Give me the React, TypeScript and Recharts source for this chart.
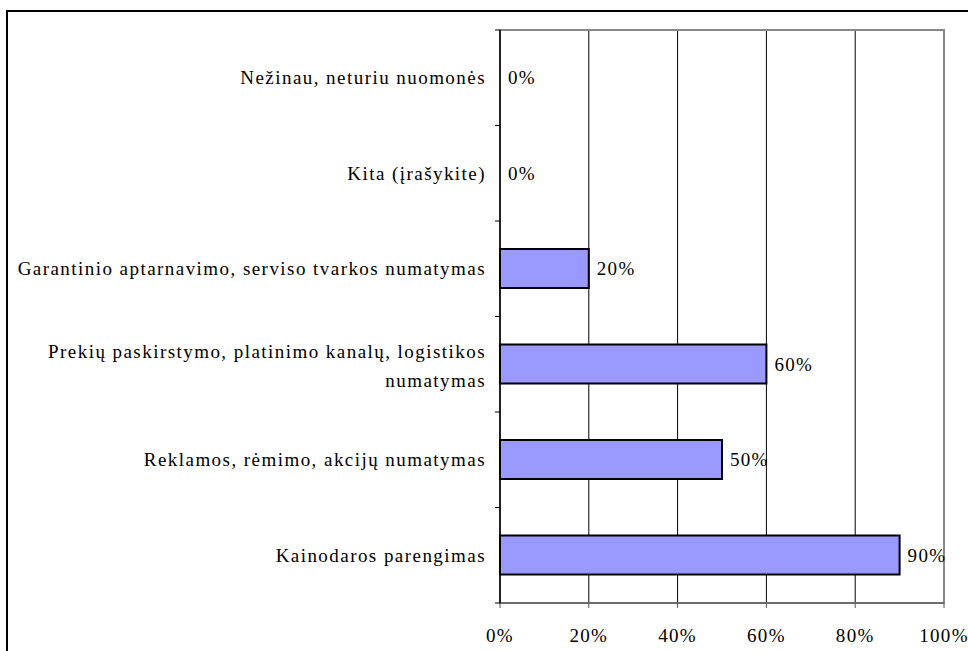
import React from "react";
import { ComposedChart, Bar, Line, XAxis, YAxis, CartesianGrid, LabelList, ReferenceArea } from "recharts";

const categories = [
  "Nežinau, neturiu nuomonės",
  "Kita (įrašykite)",
  "Garantinio aptarnavimo, serviso tvarkos numatymas",
  "Prekių paskirstymo, platinimo kanalų, logistikos|numatymas",
  "Reklamos, rėmimo, akcijų numatymas",
  "Kainodaros parengimas",
];
const values = [0, 0, 20, 60, 50, 90];
const xTicks = [0, 20, 40, 60, 80, 100];

const data = categories.map((c, i) => ({ name: c, value: values[i] }));

const W = 968;
const H = 651;
const MARGIN = { top: 30, right: 24, bottom: 0, left: 0 };
const XAXIS_H = 48;
const YAXIS_W = 500;
const FONT = "'Liberation Serif', 'Times New Roman', serif";
const FS = 19;
const LS = 1.45;
const BAND = (H - MARGIN.top - MARGIN.bottom - XAXIS_H) / categories.length;

const YTick = (props: any) => {
  const { y, payload, index } = props;
  const lines = String(payload.value).split("|");
  const axisX = MARGIN.left + YAXIS_W;
  const lh = 29;
  const start = -((lines.length - 1) * lh) / 2;
  return (
    <g>
      <line x1={axisX - 5} x2={axisX} y1={y - BAND / 2} y2={y - BAND / 2} stroke="#000" strokeWidth={1} />
      {index === categories.length - 1 && (
        <line x1={axisX - 5} x2={axisX} y1={y + BAND / 2} y2={y + BAND / 2} stroke="#000" strokeWidth={1} />
      )}
      <text
        x={axisX - 14}
        y={y}
        textAnchor="end"
        fontFamily={FONT}
        fontSize={FS}
        letterSpacing={LS}
        fill="#000"
      >
        {lines.map((l, i) => (
          <tspan key={i} x={axisX - 14} dy={i === 0 ? start + FS * 0.35 + (lines.length > 1 ? 2 : 0) : lh}>
            {l}
          </tspan>
        ))}
      </text>
    </g>
  );
};

export default function App() {
  return (
    <div style={{ position: "absolute", left: 0, top: 0, width: W, height: H, overflow: "hidden", background: "#fff" }}>
      <div style={{ position: "absolute", left: 6, top: 10, width: 1000, height: 700, border: "2px solid #000" }} />
      <div style={{ position: "absolute", left: 0, top: 0 }}>
        <ComposedChart width={W} height={H} data={data} layout="vertical" margin={MARGIN} barSize={39}>
          <ReferenceArea x1={0} x2={100} fill="none" stroke="#888" strokeWidth={2} ifOverflow="visible" />
          <CartesianGrid horizontal={false} vertical={true} stroke="#000" strokeWidth={1} strokeOpacity={1} />
          <XAxis
            type="number"
            domain={[0, 100]}
            ticks={xTicks}
            height={XAXIS_H}
            tickFormatter={(v: number) => `${v}%`}
            stroke="#555"
            tickSize={5}
            tickMargin={21}
            tick={{ fontFamily: FONT, fontSize: FS, fill: "#000", letterSpacing: 1.3 }}
            interval={0}
          />
          <YAxis
            type="category"
            dataKey="name"
            width={YAXIS_W}
            stroke="#000"
            strokeWidth={1.5}
            tickLine={false}
            tick={<YTick />}
            interval={0}
          />
          <Bar dataKey="value" fill="#9999FF" stroke="#000" strokeWidth={2} isAnimationActive={false} />
          <Line dataKey="value" stroke="none" dot={false} activeDot={false} isAnimationActive={false}>
            <LabelList
              dataKey="value"
              position="right"
              offset={8}
              formatter={(v: number) => `${v}%`}
              fontFamily={FONT}
              fontSize={FS}
              letterSpacing={1.3}
              fill="#000"
            />
          </Line>
        </ComposedChart>
      </div>
    </div>
  );
}
